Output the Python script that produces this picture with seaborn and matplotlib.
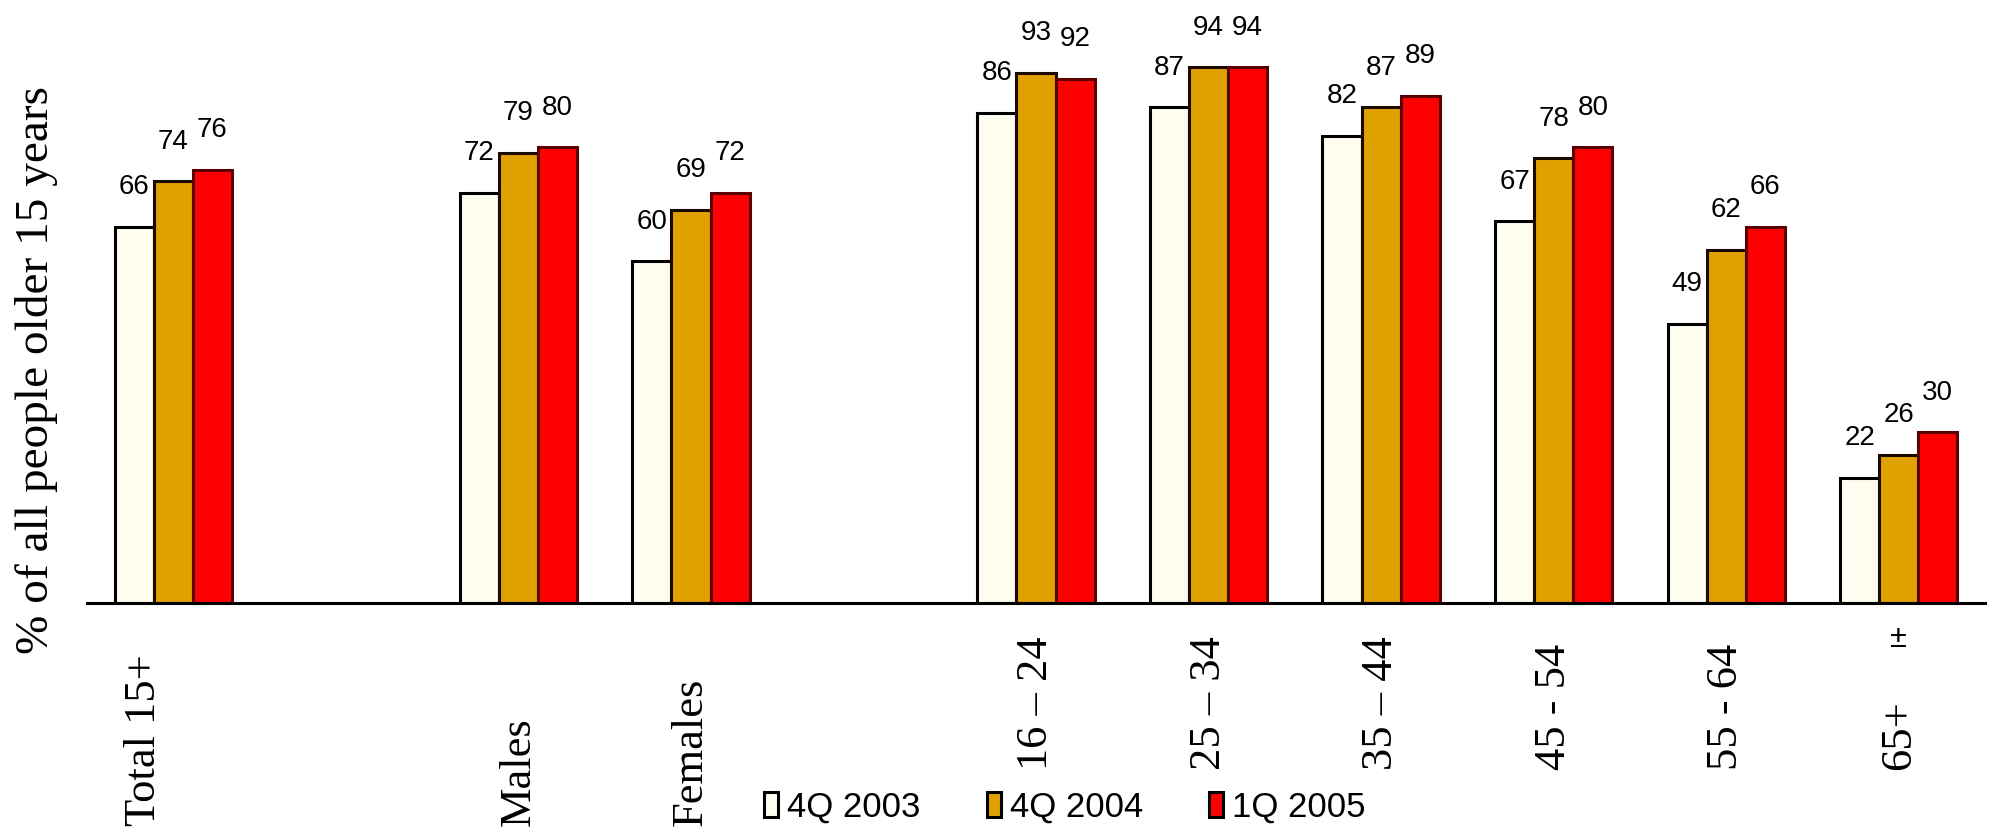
import matplotlib
matplotlib.use("Agg")
import matplotlib.pyplot as plt
import matplotlib.transforms as mtransforms
import numpy as np
import pandas as pd
import seaborn as sns

# Chart data
categories = ["Total 15+", "", "Males", "Females", " ",
              "16 \u2013 24", "25 \u2013 34", "35 \u2013 44", "45 - 54", "55 - 64", "65+"]
periods = ["4Q 2003", "4Q 2004", "1Q 2005"]
groups = ["Total 15+", "Males", "Females",
          "16 \u2013 24", "25 \u2013 34", "35 \u2013 44", "45 - 54", "55 - 64", "65+"]
q4_2003 = [66, 72, 60, 86, 87, 82, 67, 49, 22]
q4_2004 = [74, 79, 69, 93, 94, 87, 78, 62, 26]
q1_2005 = [76, 80, 72, 92, 94, 89, 80, 66, 30]
y_label = "% of all people older 15 years"

# Long-form table
rows = []
for period, vals in zip(periods, [q4_2003, q4_2004, q1_2005]):
    for g, v in zip(groups, vals):
        rows.append({"group": g, "period": period, "value": v})
df = pd.DataFrame(rows)

palette = {"4Q 2003": "#FFFDF0", "4Q 2004": "#DFA000", "1Q 2005": "#FF0000"}
edges = {"4Q 2003": "#000000", "4Q 2004": "#1a0a00", "1Q 2005": "#5a0000"}

sns.set_style("white")
plt.rcParams["font.family"] = ["Liberation Sans", "DejaVu Sans"]
plt.rcParams["text.color"] = "black"

fig = plt.figure(figsize=(20.02, 8.31), dpi=100)
ax = fig.add_axes([0.0435, 0.2744, 0.948, 0.686])

sns.barplot(data=df, x="group", y="value", hue="period", order=categories,
            hue_order=periods, palette=palette, width=0.68, saturation=1,
            linewidth=2.2, edgecolor="black", ax=ax, legend=True)

# Edge colours per series + value labels
for cont, period in zip(ax.containers, periods):
    for bar in cont:
        bar.set_edgecolor(edges[period])
    ax.bar_label(cont, fmt="%d", padding=19, fontsize=20, color="black", clip_on=False)

ax.set_ylim(0, 100)
ax.set_xlim(-0.5, len(categories) - 0.5)
sns.despine(ax=ax, left=True, top=True, right=True)
ax.spines["bottom"].set_linewidth(2.2)
ax.spines["bottom"].set_color("black")
ax.set_yticks([])
ax.set_ylabel("")
ax.set_xlabel("")

# Ticks at slot boundaries, labels as rotated serif text
ax.set_xticks(np.arange(-0.5, len(categories), 1.0))
ax.set_xticklabels([])
ax.tick_params(axis="x", direction="out", length=7, width=2, color="black")

trans = mtransforms.blended_transform_factory(ax.transData, fig.transFigure)
split = categories.index(" ")
for i, name in enumerate(categories):
    if not name.strip():
        continue
    # sex/total labels sit lower than the age-band labels
    y0 = 0.006 if i < split else 0.073
    dx = -0.17 if i == 0 else 0.0
    ax.text(i + dx, y0, name, transform=trans, rotation=90, ha="center",
            va="bottom", fontsize=32, family="Liberation Serif")
ax.text(categories.index("65+"), -0.063, "\u00b1",
        transform=mtransforms.blended_transform_factory(ax.transData, ax.transAxes),
        ha="center", va="center", fontsize=22)

fig.text(37 / 2002, 0.555, y_label, rotation=90, ha="center", va="center",
         fontsize=34, family="Liberation Serif")

# Legend at the bottom
handles, labels = ax.get_legend_handles_labels()
ax.legend_.remove()
fig.legend(handles, labels, loc="center", bbox_to_anchor=(0.532, 0.029), ncol=3,
           frameon=False, fontsize=25, handlelength=0.4, handleheight=0.72,
           handletextpad=0.27, columnspacing=1.9, borderpad=0)

fig.savefig("out.png", dpi=100)
